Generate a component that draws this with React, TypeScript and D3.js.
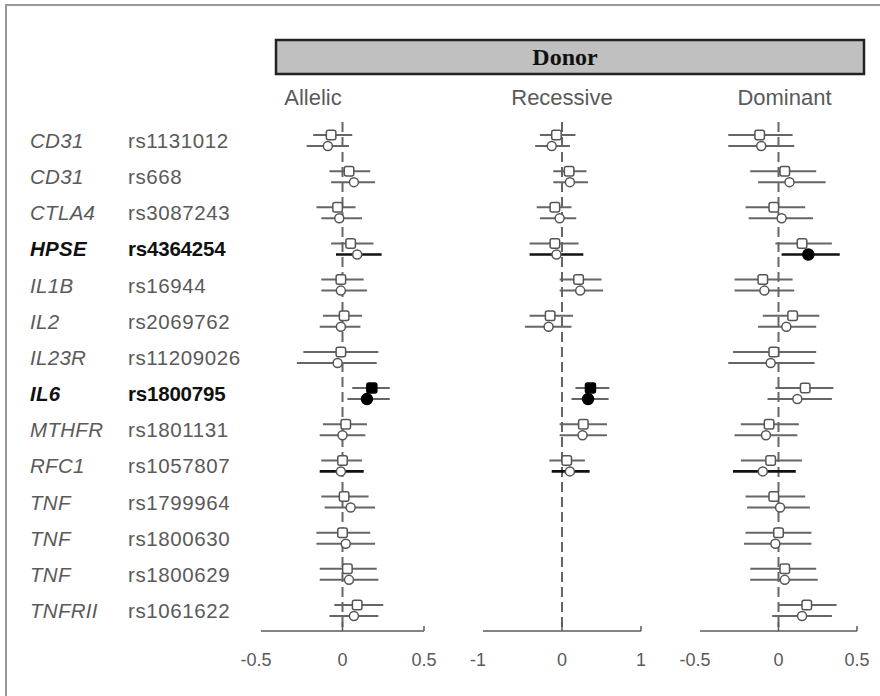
import React, { useEffect, useRef } from 'react';
import * as d3 from 'd3';

// Row labels
const genes = ['CD31', 'CD31', 'CTLA4', 'HPSE', 'IL1B', 'IL2', 'IL23R', 'IL6', 'MTHFR', 'RFC1', 'TNF', 'TNF', 'TNF', 'TNFRII'];
const snps = ['rs1131012', 'rs668', 'rs3087243', 'rs4364254', 'rs16944', 'rs2069762', 'rs11209026', 'rs1800795', 'rs1801131', 'rs1057807', 'rs1799964', 'rs1800630', 'rs1800629', 'rs1061622'];
const boldSnps = ['rs4364254', 'rs1800795'];
const darkLowerSnps = ['rs4364254', 'rs1057807'];

const panelNames = ['Allelic', 'Recessive', 'Dominant'];
const panelDomains = [[-0.5, 0.5], [-1, 1], [-0.5, 0.5]];
const panelTicks = [[-0.5, 0, 0.5], [-1, 0, 1], [-0.5, 0, 0.5]];
const panelTickLabels = [['-0.5', '0', '0.5'], ['-1', '0', '1'], ['-0.5', '0', '0.5']];

// [estimate, lower, upper]
const allelicTop = [
    [-0.07, -0.18, 0.06], [0.04, -0.08, 0.17], [-0.03, -0.16, 0.08], [0.05, -0.07, 0.19],
    [-0.01, -0.13, 0.13], [0.01, -0.12, 0.12], [-0.01, -0.24, 0.22], [0.18, 0.06, 0.29],
    [0.02, -0.12, 0.15], [0.0, -0.13, 0.12], [0.01, -0.13, 0.16], [0.0, -0.16, 0.17],
    [0.03, -0.14, 0.21], [0.09, -0.05, 0.25],
];
const allelicBottom = [
    [-0.09, -0.22, 0.04], [0.07, -0.07, 0.2], [-0.02, -0.13, 0.12], [0.09, -0.04, 0.24],
    [-0.01, -0.13, 0.15], [-0.01, -0.14, 0.11], [-0.03, -0.28, 0.21], [0.15, 0.03, 0.29],
    [0.0, -0.14, 0.14], [-0.01, -0.14, 0.13], [0.05, -0.11, 0.2], [0.02, -0.16, 0.2],
    [0.04, -0.14, 0.22], [0.07, -0.08, 0.22],
];
const recessiveTop = [
    [-0.07, -0.28, 0.17], [0.09, -0.11, 0.31], [-0.09, -0.32, 0.12], [-0.09, -0.41, 0.21],
    [0.21, -0.03, 0.5], [-0.15, -0.41, 0.14], null, [0.36, 0.17, 0.6],
    [0.27, -0.03, 0.57], [0.06, -0.16, 0.29], null, null, null, null,
];
const recessiveBottom = [
    [-0.13, -0.34, 0.1], [0.1, -0.11, 0.33], [-0.03, -0.28, 0.18], [-0.07, -0.41, 0.27],
    [0.23, -0.03, 0.52], [-0.17, -0.47, 0.12], null, [0.33, 0.12, 0.59],
    [0.26, -0.03, 0.57], [0.1, -0.13, 0.35], null, null, null, null,
];
const dominantTop = [
    [-0.12, -0.32, 0.09], [0.04, -0.18, 0.24], [-0.03, -0.21, 0.17], [0.15, -0.02, 0.34],
    [-0.1, -0.28, 0.09], [0.09, -0.1, 0.26], [-0.03, -0.29, 0.24], [0.17, -0.02, 0.35],
    [-0.06, -0.24, 0.13], [-0.05, -0.24, 0.15], [-0.03, -0.21, 0.17], [0.0, -0.21, 0.21],
    [0.04, -0.18, 0.24], [0.18, 0.0, 0.37],
];
const dominantBottom = [
    [-0.11, -0.32, 0.1], [0.07, -0.13, 0.3], [0.02, -0.19, 0.22], [0.19, 0.02, 0.39],
    [-0.09, -0.28, 0.1], [0.05, -0.13, 0.24], [-0.05, -0.32, 0.23], [0.12, -0.07, 0.34],
    [-0.08, -0.28, 0.12], [-0.1, -0.29, 0.11], [0.01, -0.2, 0.2], [-0.02, -0.22, 0.21],
    [0.04, -0.18, 0.25], [0.15, -0.04, 0.34],
];
const panelTop = [allelicTop, recessiveTop, dominantTop];
const panelBottom = [allelicBottom, recessiveBottom, dominantBottom];

// significant estimates drawn as filled markers
const filledTop = [['rs1800795'], ['rs1800795'], []];
const filledBottom = [['rs1800795'], ['rs1800795'], ['rs4364254']];

const App = () => {
    const svgRef = useRef(null);

    useEffect(() => {
        const svg = d3.select(svgRef.current);
        svg.selectAll('*').remove();

        const width = 880;
        const height = 696;
        const axisY = 631;
        const panelRanges = [[261, 424], [483, 641], [700, 857]];
        const gray = '#5a5a5a';
        const sans = '"Liberation Sans", Arial, sans-serif';

        svg.attr('width', width).attr('height', height);

        // frame (only top/left visible)
        svg.append('rect')
            .attr('x', 6).attr('y', 5)
            .attr('width', 940).attr('height', 760)
            .style('fill', 'none')
            .style('stroke', '#999')
            .style('stroke-width', 2);

        // header box
        svg.append('rect')
            .attr('x', 276).attr('y', 40)
            .attr('width', 588).attr('height', 34)
            .style('fill', '#c0c0c0')
            .style('stroke', '#222')
            .style('stroke-width', 2.5);
        svg.append('text')
            .attr('x', 565).attr('y', 65)
            .attr('text-anchor', 'middle')
            .style('font-family', '"Liberation Serif", "Times New Roman", serif')
            .style('font-weight', 'bold')
            .style('font-size', '24px')
            .style('fill', '#111')
            .text('Donor');

        const y = d3.scalePoint()
            .domain(snps)
            .range([140.5, 610.5]);

        // row labels
        const labels = svg.append('g');
        snps.forEach((s, i) => {
            const bold = boldSnps.includes(s);
            labels.append('text')
                .attr('x', 30).attr('y', y(s) + 7.5)
                .style('font-family', sans)
                .style('font-style', 'italic')
                .style('font-weight', bold ? 'bold' : 'normal')
                .style('font-size', '20.5px')
                .style('letter-spacing', '0.3px')
                .style('fill', bold ? '#111' : gray)
                .text(genes[i]);
            labels.append('text')
                .attr('x', 128).attr('y', y(s) + 7.5)
                .style('font-family', sans)
                .style('font-weight', bold ? 'bold' : 'normal')
                .style('font-size', '20.5px')
                .style('letter-spacing', bold ? '-0.2px' : '0.6px')
                .style('fill', bold ? '#111' : gray)
                .text(s);
        });

        panelNames.forEach((name, p) => {
            const x = d3.scaleLinear()
                .domain(panelDomains[p])
                .range(panelRanges[p]);
            const g = svg.append('g');

            // panel title
            g.append('text')
                .attr('x', p === 0 ? 313 : x(0) + (p === 2 ? 6 : 0))
                .attr('y', 105)
                .attr('text-anchor', 'middle')
                .style('font-family', sans)
                .style('font-size', '22px')
                .style('fill', gray)
                .text(name);

            // zero reference line
            g.append('line')
                .attr('x1', x(0)).attr('x2', x(0))
                .attr('y1', 122).attr('y2', axisY)
                .style('stroke', '#666')
                .style('stroke-width', 2)
                .style('stroke-dasharray', '10,5');

            // axis
            g.append('line')
                .attr('x1', panelRanges[p][0]).attr('x2', panelRanges[p][1])
                .attr('y1', axisY).attr('y2', axisY)
                .style('stroke', gray)
                .style('stroke-width', 1.5);
            g.append('line')
                .attr('x1', x(0)).attr('x2', x(0))
                .attr('y1', axisY).attr('y2', axisY - 9)
                .style('stroke', gray)
                .style('stroke-width', 1.5);
            g.append('line')
                .attr('x1', panelRanges[p][1]).attr('x2', panelRanges[p][1])
                .attr('y1', axisY).attr('y2', axisY - 5)
                .style('stroke', gray)
                .style('stroke-width', 1.5);
            g.selectAll('.tick-label')
                .data(panelTicks[p])
                .enter()
                .append('text')
                .attr('x', d => x(d) - (d < 0 ? 5 : 0))
                .attr('y', 666)
                .attr('text-anchor', 'middle')
                .style('font-family', sans)
                .style('font-size', '18px')
                .style('fill', gray)
                .text((d, i) => panelTickLabels[p][i]);

            const drawEstimate = (d, s, dy, filled, dark, shape) => {
                if (!d) return;
                const yy = y(s) + dy;
                g.append('line')
                    .attr('x1', x(d[1])).attr('x2', x(d[2]))
                    .attr('y1', yy).attr('y2', yy)
                    .style('stroke', dark ? '#111' : '#666')
                    .style('stroke-width', dark ? 2.6 : 2);
                if (shape === 'square') {
                    const sz = filled ? 10 : 9.5;
                    g.append('rect')
                        .attr('x', x(d[0]) - sz / 2).attr('y', yy - sz / 2)
                        .attr('width', sz).attr('height', sz)
                        .attr('rx', 2)
                        .style('fill', filled ? '#000' : '#fff')
                        .style('stroke', filled ? '#000' : '#555')
                        .style('stroke-width', 1.5);
                } else {
                    g.append('circle')
                        .attr('cx', x(d[0])).attr('cy', yy)
                        .attr('r', filled ? 5.5 : 4.5)
                        .style('fill', filled ? '#000' : '#fff')
                        .style('stroke', filled ? '#000' : '#555')
                        .style('stroke-width', 1.5);
                }
            };

            snps.forEach((s, i) => {
                drawEstimate(panelTop[p][i], s, -5.5, filledTop[p].includes(s), false, 'square');
                drawEstimate(panelBottom[p][i], s, 5.5, filledBottom[p].includes(s), darkLowerSnps.includes(s), 'circle');
            });
        });
    }, []);

    return (
        <div style={{ position: 'absolute', left: 0, top: 0, width: 880, height: 696, background: '#fff' }}>
            <svg ref={svgRef} style={{ display: 'block' }}></svg>
        </div>
    );
};

export default App;
